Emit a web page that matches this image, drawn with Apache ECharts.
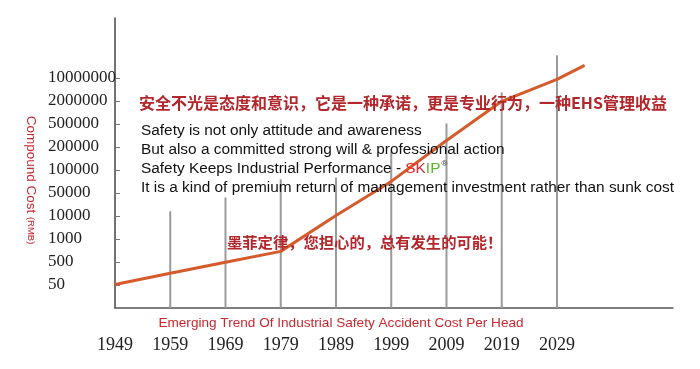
<!DOCTYPE html>
<html>
<head>
<meta charset="utf-8">
<script src="https://cdn.jsdelivr.net/npm/echarts@6/dist/echarts.min.js"></script>
<style>
html,body{margin:0;padding:0;background:#fff;}
#c{width:700px;height:369px;}
</style>
</head>
<body>
<div id="c"></div>
<script>
// ---- data ----
const yearTicks = [1949, 1959, 1969, 1979, 1989, 1999, 2009, 2019, 2029];
const costTickLabels = ['50', '500', '1000', '10000', '50000', '100000', '200000', '500000', '2000000', '10000000'];
// trend line: year vs. level on the cost scale (0 = "50", 9 = "10000000")
const lineYears = [1949, 1959, 1969, 1979, 1989, 1999, 2009, 2019, 2029, 2034];
const lineLevels = [0.02, 0.51, 0.99, 1.46, 3.02, 4.5, 6.28, 7.98, 8.93, 9.54];
// grey vertical markers per decade
const barYears = [1959, 1969, 1979, 1989, 1999, 2009, 2019, 2029];
const barLevels = [3.2, 3.8, 4.59, 4.67, 5.8, 7.02, 8.37, 9.98];

const xTitle = 'Emerging Trend Of Industrial Safety Accident Cost Per Head';
const yTitleMain = 'Compound Cost ';
const yTitleUnit = '(RMB)';
const cnLine1 = '安全不光是态度和意识，它是一种承诺，更是专业行为，一种EHS管理收益';
const cnLine2 = '墨菲定律，您担心的，总有发生的可能！';
const enLines = [
  'Safety is not only attitude and awareness',
  'But also a committed strong will & professional action',
  'Safety Keeps Industrial Performance - ',
  'It is a kind of premium return of management investment rather than sunk cost'
];

const OFFSET = 1; // axis bottom sits one step below the "50" tick
const tickVals = costTickLabels.map((_, i) => i + OFFSET);

const chart = echarts.init(document.getElementById('c'), null, {renderer: 'canvas'});
const EN = 15.4;
const option = {
  animation: false,
  backgroundColor: '#fff',
  grid: {left: 115, right: 27, top: 18, bottom: 61},
  xAxis: {
    type: 'value',
    min: 1949, max: 2050, interval: 10,
    axisLine: {show: true, lineStyle: {color: '#555', width: 1.5}},
    axisTick: {show: false},
    splitLine: {show: false},
    axisLabel: {
      customValues: yearTicks,
      formatter: v => String(v),
      margin: 28,
      fontFamily: 'Liberation Serif', fontSize: 18, color: '#222'
    }
  },
  yAxis: {
    type: 'value',
    min: 0, max: 12.6, interval: 1,
    axisLine: {show: true, lineStyle: {color: '#444', width: 1.5}},
    axisTick: {show: true, inside: true, length: 5, customValues: tickVals, lineStyle: {color: '#777'}},
    splitLine: {show: false},
    axisLabel: {
      customValues: tickVals,
      formatter: v => costTickLabels[Math.round(v) - OFFSET] || '',
      align: 'left',
      margin: 67,
      fontFamily: 'Liberation Serif', fontSize: 17, color: '#222'
    }
  },
  series: [
    {
      type: 'bar',
      barWidth: 2,
      itemStyle: {color: '#9a9a9a'},
      data: barYears.map((y, i) => [y, barLevels[i] + OFFSET]),
      z: 1
    },
    {
      type: 'line',
      symbol: 'none',
      lineStyle: {color: '#d65a2c', width: 3},
      data: lineYears.map((y, i) => [y, lineLevels[i] + OFFSET]),
      z: 3
    }
  ],
  graphic: [
    {
      type: 'text', x: 31, y: 180, rotation: -Math.PI / 2, z: 10,
      style: {
        text: '{a|' + yTitleMain + '}{b|' + yTitleUnit + '}',
        align: 'center', verticalAlign: 'middle',
        rich: {
          a: {fontFamily: 'Liberation Sans', fontSize: 13.5, fill: '#c8282e'},
          b: {fontFamily: 'Liberation Sans', fontSize: 9.5, fill: '#c8282e'}
        }
      }
    },
    {
      type: 'text', x: 341, y: 323, z: 10,
      style: {text: xTitle, align: 'center', verticalAlign: 'middle',
        fontFamily: 'Liberation Sans', fontSize: 13.6, fill: '#c8282e'}
    },
    {
      type: 'text', x: 139, y: 103, z: 10,
      style: {text: cnLine1, align: 'left', verticalAlign: 'middle',
        fontFamily: 'Noto Sans CJK SC', fontWeight: 'bold', fontSize: 16, fill: '#b3262b'}
    },
    {
      type: 'text', x: 227, y: 242, z: 10,
      style: {text: cnLine2, align: 'left', verticalAlign: 'middle',
        fontFamily: 'Noto Sans CJK SC', fontWeight: 'bold', fontSize: 15.3, fill: '#b3262b'}
    },
    {
      type: 'text', x: 141, y: 131, z: 10,
      style: {text: enLines[0], align: 'left', verticalAlign: 'middle',
        fontFamily: 'Liberation Sans', fontSize: EN, fill: '#111'}
    },
    {
      type: 'text', x: 141, y: 150, z: 10,
      style: {text: enLines[1], align: 'left', verticalAlign: 'middle',
        fontFamily: 'Liberation Sans', fontSize: EN, fill: '#111'}
    },
    {
      type: 'text', x: 141, y: 169, z: 10,
      style: {
        text: '{n|' + enLines[2] + '}{r|SK}{g|IP}{s|®}',
        align: 'left', verticalAlign: 'middle',
        rich: {
          n: {fontFamily: 'Liberation Sans', fontSize: EN, fill: '#111'},
          r: {fontFamily: 'Liberation Sans', fontSize: EN, fill: '#e8262b'},
          g: {fontFamily: 'Liberation Sans', fontSize: EN, fill: '#5cb531'},
          s: {fontFamily: 'Liberation Sans', fontSize: 8, fill: '#333', verticalAlign: 'top', padding: [0, 0, 10, 1]}
        }
      }
    },
    {
      type: 'text', x: 141, y: 188, z: 10,
      style: {text: enLines[3], align: 'left', verticalAlign: 'middle',
        fontFamily: 'Liberation Sans', fontSize: EN, fill: '#111'}
    }
  ]
};
chart.setOption(option);
</script>
</body>
</html>
